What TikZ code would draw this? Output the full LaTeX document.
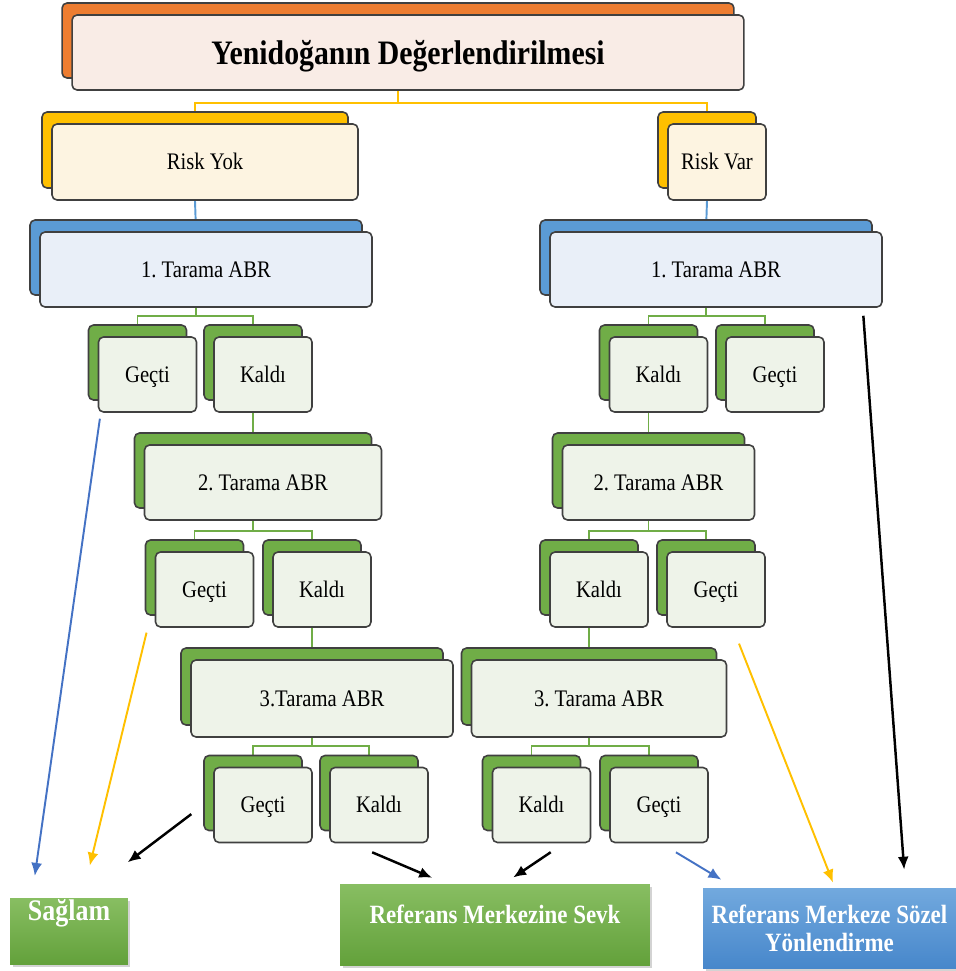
\documentclass[tikz,border=0pt]{standalone}
\usepackage{fontspec}
\setmainfont{Liberation Serif}[FakeStretch=0.87]
\usetikzlibrary{shadows,backgrounds,calc,arrows.meta}
\definecolor{orgback}{HTML}{ED7D31}
\definecolor{orgfront}{HTML}{F9ECE6}
\definecolor{ylwback}{HTML}{FFC000}
\definecolor{ylwfront}{HTML}{FDF4E1}
\definecolor{bluback}{HTML}{5B9BD5}
\definecolor{blufront}{HTML}{E9EFF8}
\definecolor{grnback}{HTML}{70AD47}
\definecolor{grnfront}{HTML}{EEF3E9}
\definecolor{arrblue}{HTML}{4472C4}
\definecolor{resgtop}{HTML}{88BE62}
\definecolor{resgbot}{HTML}{63A13B}
\definecolor{resbtop}{HTML}{72A9DE}
\definecolor{resbbot}{HTML}{4787CB}

\begin{document}
\frenchspacing
\begin{tikzpicture}[x=0.02cm, y=-0.02cm]
  \tikzstyle{box} = [rounded corners=0.1cm, draw=black!75, line width=0.9pt, inner sep=0pt, text height=11pt, text depth=2pt, font=\fontsize{13.5}{15}\selectfont]
  \tikzstyle{obox} = [box, fill=orgfront, general shadow={shadow xshift=-0.2cm, shadow yshift=0.24cm, fill=orgback, draw=black!75, line width=0.9pt}]
  \tikzstyle{ybox} = [box, fill=ylwfront, general shadow={shadow xshift=-0.2cm, shadow yshift=0.24cm, fill=ylwback, draw=black!75, line width=0.9pt}]
  \tikzstyle{bbox} = [box, fill=blufront, general shadow={shadow xshift=-0.2cm, shadow yshift=0.24cm, fill=bluback, draw=black!75, line width=0.9pt}]
  \tikzstyle{gbox} = [box, fill=grnfront, general shadow={shadow xshift=-0.2cm, shadow yshift=0.24cm, fill=grnback, draw=black!75, line width=0.9pt}]
  \tikzstyle{sbox} = [gbox, minimum width=1.96cm, minimum height=1.5cm]
  \tikzstyle{result} = [draw=none, inner sep=0pt, text=white, font=\fontsize{15}{16}\selectfont\bfseries, drop shadow={shadow xshift=0.05cm, shadow yshift=-0.06cm, opacity=0.35}]
  \tikzstyle{yline} = [draw=ylwback, line width=1.1pt]
  \tikzstyle{bline} = [draw=bluback, line width=1.1pt]
  \tikzstyle{gline} = [draw=grnback, line width=1.1pt]
  \tikzstyle{arrow} = [-{Latex[length=0.26cm, width=0.22cm]}, line width=1.1pt]

  \useasboundingbox (0, 0) rectangle (956, 971);

  % top and risk groups
  \node[obox, minimum width=13.44cm, minimum height=1.5cm, text height=17pt, text depth=3pt, font=\fontsize{19.5}{22}\selectfont\bfseries] (title) at (408, 52.5) {Yenidoğanın Değerlendirilmesi};
  \node[ybox, minimum width=6.12cm, minimum height=1.52cm] (ry) at (205, 162) {Risk Yok};
  \node[ybox, minimum width=1.96cm, minimum height=1.52cm] (rv) at (717, 162) {Risk Var};

  % left branch
  \node[bbox, minimum width=6.64cm, minimum height=1.5cm] (tl1) at (206, 269.5) {1. Tarama ABR};
  \node[sbox] (gA) at (147.5, 374.5) {Geçti};
  \node[sbox] (kA) at (263, 374.5) {Kaldı};
  \node[gbox, minimum width=4.74cm, minimum height=1.5cm] (tl2) at (263, 482.5) {2. Tarama ABR};
  \node[sbox] (gC) at (204.5, 589.5) {Geçti};
  \node[sbox] (kC) at (322, 589.5) {Kaldı};
  \node[gbox, minimum width=5.24cm, minimum height=1.54cm] (tl3) at (322, 698.5) {3.Tarama ABR};
  \node[sbox] (gE) at (263, 805) {Geçti};
  \node[sbox] (kE) at (379, 805) {Kaldı};

  % right branch
  \node[bbox, minimum width=6.64cm, minimum height=1.5cm] (tr1) at (716, 269.5) {1. Tarama ABR};
  \node[sbox] (kB) at (658.5, 374.5) {Kaldı};
  \node[sbox] (gB) at (775, 374.5) {Geçti};
  \node[gbox, minimum width=3.84cm, minimum height=1.5cm] (tr2) at (658.5, 482.5) {2. Tarama ABR};
  \node[sbox] (kD) at (599, 589.5) {Kaldı};
  \node[sbox] (gD) at (716, 589.5) {Geçti};
  \node[gbox, minimum width=5.1cm, minimum height=1.54cm] (tr3) at (599, 698.5) {3. Tarama ABR};
  \node[sbox] (kF) at (541.5, 805) {Kaldı};
  \node[sbox] (gF) at (659, 805) {Geçti};

  % results
  \node[result, top color=resgtop, bottom color=resgbot, minimum width=2.36cm, text height=0.44cm, text depth=0.88cm, font=\fontsize{17}{18}\selectfont\bfseries] (sag) at (69, 931) {Sağlam};
  \node[result, top color=resgtop, bottom color=resgbot, minimum width=6.2cm, text height=0.78cm, text depth=0.84cm] (ref) at (495, 924.5) {Referans Merkezine Sevk};
  \node[result, top color=resbtop, bottom color=resbbot, minimum width=5.06cm, minimum height=1.6cm, align=center] (soz) at (829.5, 928) {Referans Merkeze Sözel\\Yönlendirme};

  % tree lines
  \begin{scope}[on background layer]
    \draw[yline] ($(title.south)+(-10,0)$) -- ++(0, 12) -| ($(ry.north)+(-10,0)$);
    \draw[yline] ($(title.south)+(-10,0)$) -- ++(0, 12) -| ($(rv.north)+(-10,0)$);
    \draw[bline] ($(ry.south)+(-10,0)$) -- ($(tl1.north)+(-10,0)$);
    \draw[bline] ($(rv.south)+(-10,0)$) -- ($(tr1.north)+(-10,0)$);
    \draw[gline] ($(tl1.south)+(-10,0)$) -- ++(0, 8) -| ($(gA.north)+(-10,0)$);
    \draw[gline] ($(tl1.south)+(-10,0)$) -- ++(0, 8) -| ($(kA.north)+(-10,0)$);
    \draw[gline] ($(kA.south)+(-10,0)$) -- ($(tl2.north)+(-10,0)$);
    \draw[gline] ($(tl2.south)+(-10,0)$) -- ++(0, 10) -| ($(gC.north)+(-10,0)$);
    \draw[gline] ($(tl2.south)+(-10,0)$) -- ++(0, 10) -| ($(kC.north)+(-10,0)$);
    \draw[gline] ($(kC.south)+(-10,0)$) -- ($(tl3.north)+(-10,0)$);
    \draw[gline] ($(tl3.south)+(-10,0)$) -- ++(0, 8) -| ($(gE.north)+(-10,0)$);
    \draw[gline] ($(tl3.south)+(-10,0)$) -- ++(0, 8) -| ($(kE.north)+(-10,0)$);
    \draw[gline] ($(tr1.south)+(-10,0)$) -- ++(0, 8) -| ($(kB.north)+(-10,0)$);
    \draw[gline] ($(tr1.south)+(-10,0)$) -- ++(0, 8) -| ($(gB.north)+(-10,0)$);
    \draw[gline] ($(kB.south)+(-10,0)$) -- ($(tr2.north)+(-10,0)$);
    \draw[gline] ($(tr2.south)+(-10,0)$) -- ++(0, 10) -| ($(kD.north)+(-10,0)$);
    \draw[gline] ($(tr2.south)+(-10,0)$) -- ++(0, 10) -| ($(gD.north)+(-10,0)$);
    \draw[gline] ($(kD.south)+(-10,0)$) -- ($(tr3.north)+(-10,0)$);
    \draw[gline] ($(tr3.south)+(-10,0)$) -- ++(0, 8) -| ($(kF.north)+(-10,0)$);
    \draw[gline] ($(tr3.south)+(-10,0)$) -- ++(0, 8) -| ($(gF.north)+(-10,0)$);
  \end{scope}

  % arrows to results
  \draw[arrow, draw=arrblue, fill=arrblue, shorten <=0.12cm, shorten >=0.44cm] ($(gA.south west)+(3,0)$) -- ($(sag.north west)+(22,0)$);
  \draw[arrow, draw=ylwback, fill=ylwback, shorten <=0.1cm, shorten >=0.66cm] ($(gC.south west)+(-7,0)$) -- ($(sag.north)+(13,0)$);
  \draw[arrow, line width=1.4pt, shorten <=0.55cm, shorten >=1.17cm] ($(gE.west)+(0,-7.5)$) -- ($(sag.north)+(12,0)$);
  \draw[arrow, line width=1.4pt, shorten <=0.46cm, shorten >=0.3cm] ($(kE.south)+(-28,0)$) -- ($(ref.north)+(-49,0)$);
  \draw[arrow, line width=1.4pt, shorten <=0.32cm, shorten >=0.22cm] ($(kF.south)+(22.5,0)$) -- ($(ref.north)+(9,0)$);
  \draw[arrow, draw=arrblue, fill=arrblue, shorten <=0.35cm, shorten >=0.31cm] ($(gF.south)+(2,0)$) -- ($(soz.north west)+(32,0)$);
  \draw[arrow, draw=ylwback, fill=ylwback, shorten <=0.34cm, shorten >=0.11cm] ($(gD.south east)+(-33,0)$) -- ($(soz.north)+(5.5,0)$);
  \draw[arrow, line width=1.4pt, shorten <=0.16cm, shorten >=0.36cm] ($(tr1.south east)+(-20,0)$) -- ($(soz.north)+(76,0)$);
\end{tikzpicture}
\end{document}
